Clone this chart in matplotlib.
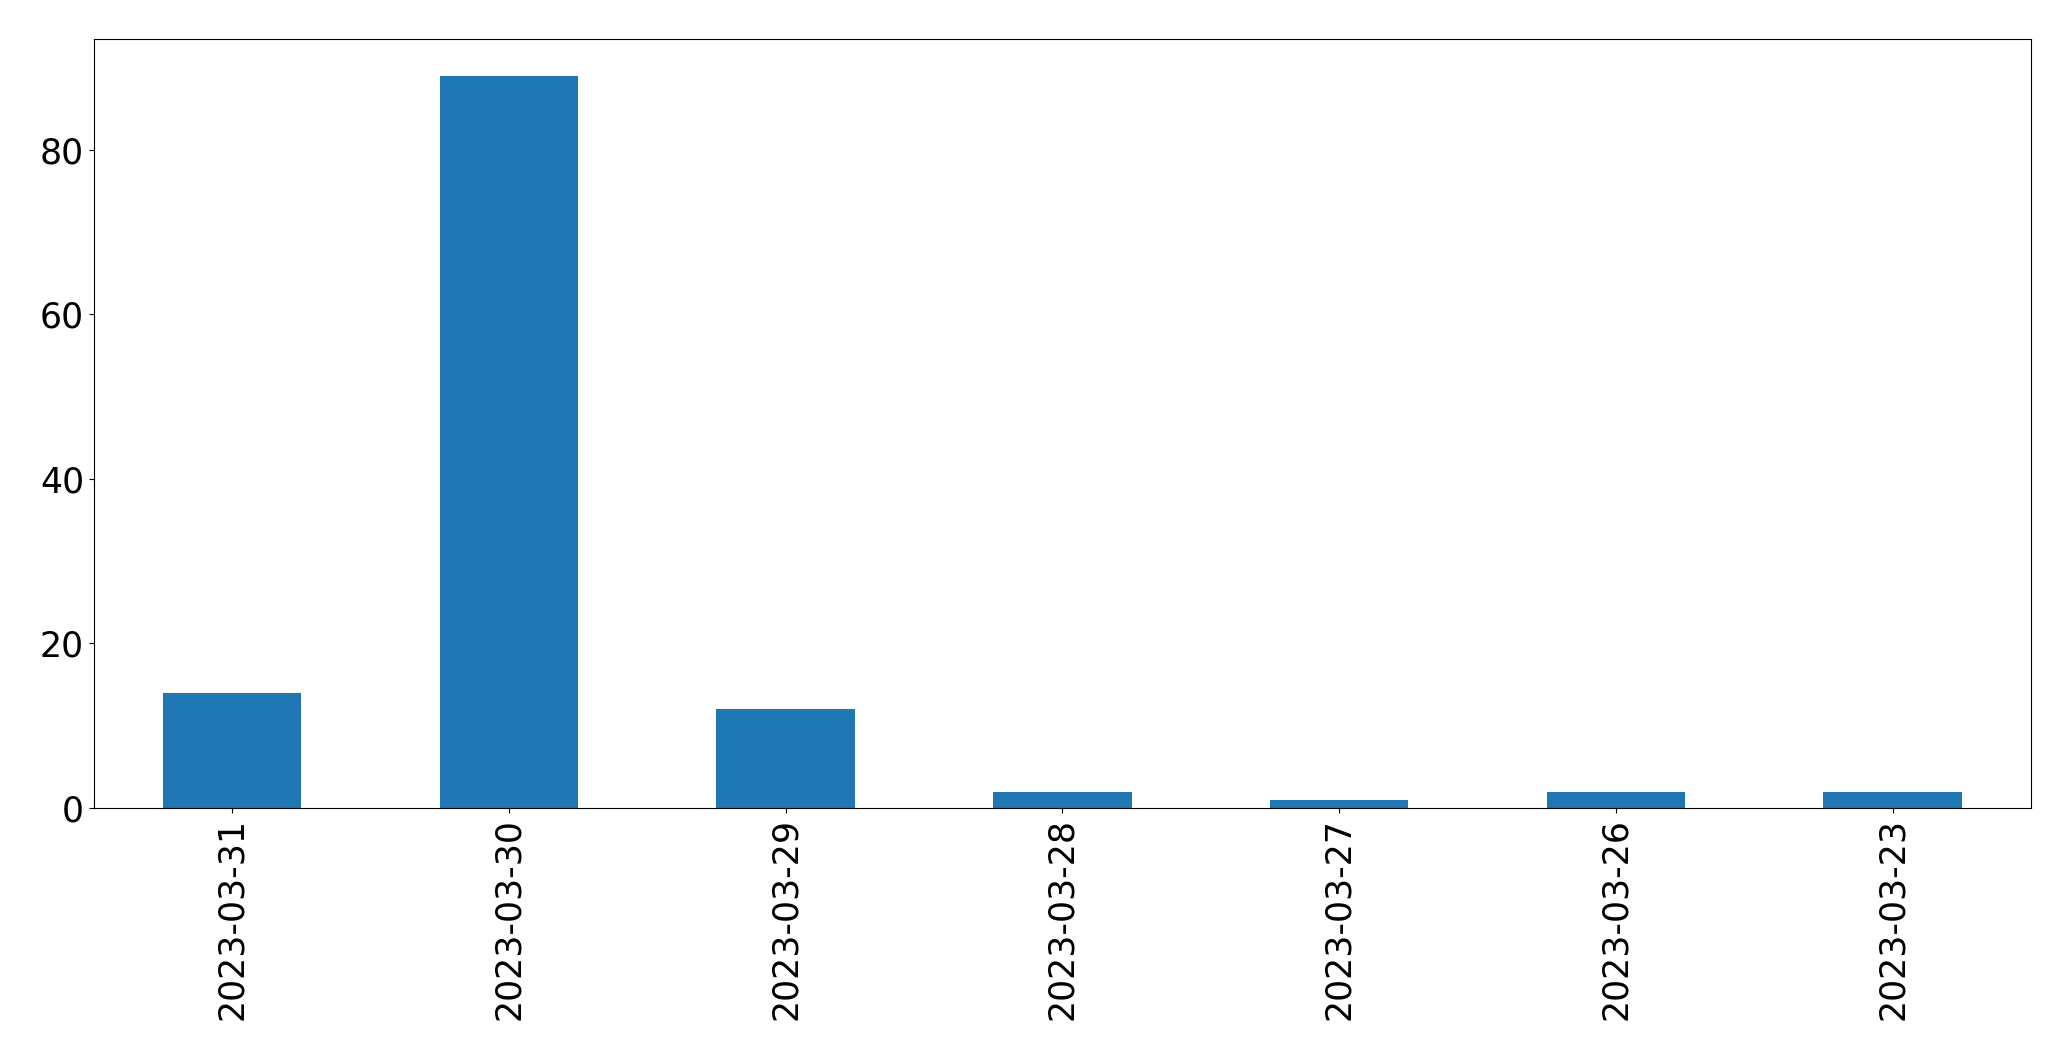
import matplotlib
matplotlib.use("Agg")
import matplotlib.pyplot as plt
import pandas as pd

dates = ["2023-03-31", "2023-03-30", "2023-03-29", "2023-03-28",
         "2023-03-27", "2023-03-26", "2023-03-23"]
counts = [14, 89, 12, 2, 1, 2, 2]

s = pd.Series(counts, index=dates)

fig, ax = plt.subplots(figsize=(20.71, 10.61), dpi=100)
s.plot(kind="bar", ax=ax, fontsize=25)
fig.subplots_adjust(left=0.0453, right=0.9807, top=0.963, bottom=0.2385)
fig.savefig("out.png", dpi=100)
